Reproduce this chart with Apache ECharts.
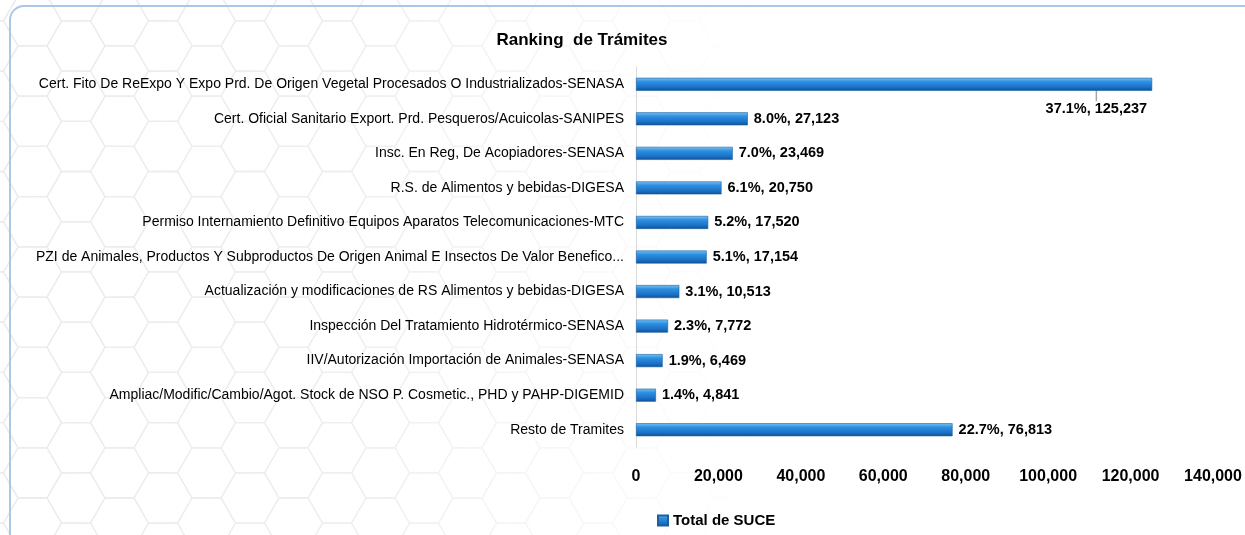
<!DOCTYPE html>
<html>
<head>
<meta charset="utf-8">
<script src="https://cdn.jsdelivr.net/npm/echarts@6/dist/echarts.min.js"></script>
<style>
  html, body { margin: 0; padding: 0; background: #fff; }
  #wrap { position: relative; width: 1245px; height: 535px; }
  #hex, #chart { position: absolute; left: 0; top: 0; width: 1245px; height: 535px; }
</style>
</head>
<body>
<div id="wrap">
  <canvas id="hex" width="1245" height="535"></canvas>
  <div id="chart"></div>
</div>
<script>
// datos del ranking
const tramites = [
  "Cert. Fito De ReExpo Y Expo Prd. De Origen Vegetal Procesados O Industrializados-SENASA",
  "Cert. Oficial Sanitario Export. Prd. Pesqueros/Acuicolas-SANIPES",
  "Insc. En Reg, De Acopiadores-SENASA",
  "R.S. de Alimentos y bebidas-DIGESA",
  "Permiso Internamiento Definitivo Equipos Aparatos Telecomunicaciones-MTC",
  "PZI de Animales, Productos Y Subproductos De Origen Animal E Insectos De Valor Benefico...",
  "Actualización y modificaciones de RS Alimentos y bebidas-DIGESA",
  "Inspección Del Tratamiento Hidrotérmico-SENASA",
  "IIV/Autorización Importación de Animales-SENASA",
  "Ampliac/Modific/Cambio/Agot. Stock de NSO P. Cosmetic., PHD y PAHP-DIGEMID",
  "Resto de Tramites"
];
const totalSuce = [125237, 27123, 23469, 20750, 17520, 17154, 10513, 7772, 6469, 4841, 76813];
const porcentaje = ["37.1%", "8.0%", "7.0%", "6.1%", "5.2%", "5.1%", "3.1%", "2.3%", "1.9%", "1.4%", "22.7%"];

const font = "Liberation Sans";
const fmt = (v) => v.toLocaleString("en-US");

// fondo de hexagonos (decorativo, se desvanece hacia la derecha)
(function () {
  const ctx = document.getElementById("hex").getContext("2d");
  const s = 29, h = s * Math.sqrt(3) / 2;
  ctx.strokeStyle = "#ececec";
  ctx.lineWidth = 1.3;
  for (let k = -3; k < 32; k++) {
    const cx = 76 + k * 1.5 * s;
    for (let m = -12; m < 3; m++) {
      const cy = 498 + m * 2 * h + (Math.abs(k) % 2 ? h : 0);
      ctx.beginPath();
      for (let i = 0; i < 6; i++) {
        const a = Math.PI / 3 * i;
        const px = cx + s * Math.cos(a), py = cy + s * Math.sin(a);
        i ? ctx.lineTo(px, py) : ctx.moveTo(px, py);
      }
      ctx.closePath();
      ctx.stroke();
    }
  }
  const g = ctx.createLinearGradient(0, 0, 760, 0);
  g.addColorStop(0, "rgba(255,255,255,0)");
  g.addColorStop(0.45, "rgba(255,255,255,0.15)");
  g.addColorStop(1, "rgba(255,255,255,1)");
  ctx.fillStyle = g;
  ctx.fillRect(0, 0, 1245, 535);
})();

const chart = echarts.init(document.getElementById("chart"));
chart.setOption({
  backgroundColor: "transparent",
  animation: false,
  title: {
    text: "Ranking  de Trámites",
    left: 577,
    top: 27,
    textAlign: "center",
    textStyle: { fontFamily: font, fontSize: 17, fontWeight: "bold", color: "#000" }
  },
  graphic: [
    {
      type: "rect",
      shape: { x: 10, y: 6, width: 1260, height: 560, r: 14 },
      style: { fill: null, stroke: "#a9c8e8", lineWidth: 2 },
      z: -1
    }
  ],
  legend: {
    data: ["Total de SUCE"],
    left: 652,
    top: 508,
    itemWidth: 10,
    itemHeight: 10,
    itemGap: 3,
    icon: "rect",
    textStyle: { fontFamily: font, fontSize: 15, fontWeight: "bold", color: "#000" }
  },
  grid: { left: 636, right: 32, top: 67, bottom: 88 },
  xAxis: {
    type: "value",
    min: 0,
    max: 140000,
    interval: 20000,
    axisLine: { show: false },
    axisTick: { show: false },
    splitLine: { show: false },
    axisLabel: {
      margin: 22,
      fontFamily: font,
      fontSize: 16,
      fontWeight: "bold",
      color: "#000",
      formatter: (v) => fmt(v)
    }
  },
  yAxis: {
    type: "category",
    inverse: true,
    data: tramites,
    axisLine: { show: true, lineStyle: { color: "#d9d9d9" } },
    axisTick: { show: false },
    axisLabel: { margin: 12, fontFamily: font, fontSize: 14, color: "#000" }
  },
  series: [
    {
      name: "Total de SUCE",
      type: "bar",
      data: totalSuce.map((v, i) => i === 0
        ? { value: v, labelLine: { show: true, lineStyle: { color: "#a6a6a6", width: 1.5 } } }
        : v),
      barWidth: 13,
      itemStyle: {
        color: new echarts.graphic.LinearGradient(0, 0, 0, 1, [
          { offset: 0, color: "#7cc3f5" },
          { offset: 0.3, color: "#2e90e0" },
          { offset: 0.75, color: "#1a6fc4" },
          { offset: 1, color: "#0f4f94" }
        ]),
        borderColor: "#1b5f9f",
        borderWidth: 0.6
      },
      label: {
        show: true,
        position: "right",
        distance: 6,
        fontFamily: font,
        fontSize: 14.5,
        fontWeight: "bold",
        color: "#000",
        formatter: (p) => porcentaje[p.dataIndex] + ", " + fmt(p.value)
      },
      labelLine: { show: false },
      labelLayout: (p) => {
        if (p.dataIndex === 0) {
          return {
            x: p.rect.x + p.rect.width - 5,
            y: p.rect.y + p.rect.height + 18,
            align: "right",
            verticalAlign: "middle"
          };
        }
        return {};
      }
    }
  ]
});
</script>
</body>
</html>
